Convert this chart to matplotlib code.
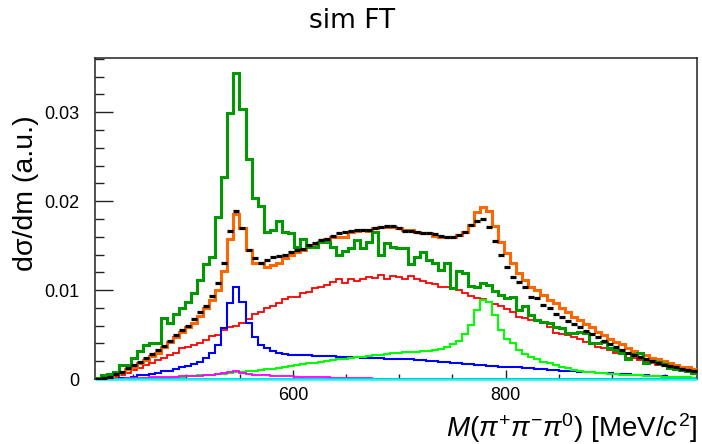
import numpy as np
import matplotlib
matplotlib.use("Agg")
import matplotlib.pyplot as plt
from matplotlib import ticker

plt.rcParams['font.family'] = ['Liberation Sans', 'DejaVu Sans']
plt.rcParams['mathtext.fontset'] = 'custom'
plt.rcParams['mathtext.rm'] = 'Liberation Sans'
plt.rcParams['mathtext.it'] = 'Liberation Sans:italic'

# binning of the histograms (MeV)
m_lo, m_hi, n_bins = 414.0, 980.0, 100

# bin contents, in units of 1e-3
data_ft = [
    0.1, 0.4, 0.6, 0.8, 1.6, 1.6, 2.4, 3.2, 3.8, 4.0,
    4.1, 6.9, 6.3, 7.3, 8.0, 8.7, 9.7, 11.1, 12.9, 13.7,
    18.2, 22.7, 29.9, 34.4, 30.4, 24.7, 20.4, 19.4, 16.5, 16.8,
    17.8, 16.5, 16.4, 14.8, 15.7, 14.8, 14.8, 15.4, 15.4, 14.8,
    14.0, 14.4, 14.7, 15.6, 14.7, 15.4, 16.5, 13.9, 15.3, 14.8,
    14.7, 14.7, 12.9, 13.7, 14.3, 13.4, 13.0, 12.3, 13.1, 10.2,
    12.1, 11.9, 10.5, 10.4, 10.8, 10.6, 9.9, 9.4, 9.1, 9.2,
    7.8, 8.2, 7.2, 6.6, 6.4, 6.3, 5.8, 5.7, 5.2, 5.2,
    5.3, 5.2, 4.1, 4.1, 4.2, 3.5, 3.3, 2.9, 2.3, 2.8,
    2.9, 1.8, 2.0, 1.9, 1.7, 1.2, 1.1, 1.0, 0.9, 0.7,
]
fit_total = [
    0.1, 0.2, 0.3, 0.6, 0.8, 1.1, 1.4, 1.8, 2.1, 2.6,
    2.9, 3.6, 4.2, 4.7, 5.3, 5.8, 6.3, 7.1, 8.0, 8.9,
    10.0, 12.2, 15.8, 18.5, 17.0, 14.5, 13.1, 13.1, 12.6, 12.8,
    13.1, 13.6, 13.9, 14.3, 14.5, 14.8, 15.1, 15.4, 15.7, 16.0,
    16.0, 16.0, 16.5, 16.7, 16.8, 16.7, 17.0, 17.1, 17.1, 17.1,
    17.0, 16.8, 16.8, 16.5, 16.4, 16.4, 16.1, 16.0, 16.0, 16.0,
    16.2, 16.5, 17.3, 18.8, 19.3, 18.9, 17.2, 15.4, 14.2, 13.0,
    11.9, 11.1, 10.4, 10.0, 9.4, 8.9, 8.5, 8.0, 7.5, 7.0,
    6.6, 6.2, 5.8, 5.3, 4.9, 4.5, 4.2, 3.9, 3.5, 3.2,
    2.9, 2.7, 2.4, 2.2, 2.0, 1.8, 1.6, 1.4, 1.3, 1.1,
]
data_points = [
    0.05, 0.1, 0.2, 0.6, 0.8, 1.2, 1.6, 1.9, 2.4, 2.8,
    3.3, 3.7, 4.3, 4.9, 5.5, 6.0, 6.7, 7.5, 8.2, 9.3,
    10.8, 13.0, 16.7, 18.9, 17.0, 14.5, 13.6, 13.1, 13.4, 13.7,
    13.8, 14.0, 14.3, 14.5, 14.6, 15.1, 15.3, 15.6, 15.8, 16.1,
    16.4, 16.5, 16.7, 16.8, 16.8, 16.8, 17.0, 17.1, 17.2, 17.2,
    17.0, 16.7, 16.6, 16.5, 16.4, 16.4, 16.3, 16.1, 16.0, 16.0,
    16.2, 16.5, 17.3, 17.8, 18.0, 17.1, 15.5, 14.0, 12.6, 11.5,
    10.9, 10.3, 9.2, 9.1, 8.3, 8.0, 7.3, 7.0, 6.5, 6.2,
    5.8, 5.4, 5.1, 4.7, 4.3, 3.9, 3.6, 3.3, 2.9, 2.7,
    2.5, 2.2, 2.0, 1.8, 1.6, 1.5, 1.3, 1.1, 1.0, 0.9,
]
broad = [
    0.0, 0.05, 0.1, 0.2, 0.4, 0.7, 1.0, 1.2, 1.6, 1.8,
    2.1, 2.4, 2.7, 2.9, 3.5, 3.6, 3.8, 4.0, 4.4, 4.8,
    5.0, 5.5, 5.8, 6.0, 6.3, 6.7, 7.3, 7.5, 8.0, 8.2,
    8.5, 9.0, 9.2, 9.2, 9.7, 9.8, 10.2, 10.4, 10.6, 10.9,
    11.2, 10.8, 11.2, 11.0, 11.2, 11.5, 11.4, 11.7, 11.3, 11.6,
    11.5, 11.2, 11.6, 11.2, 11.0, 10.8, 10.7, 10.4, 10.4, 10.1,
    10.0, 9.7, 9.3, 9.1, 9.0, 8.7, 8.4, 8.2, 7.9, 7.5,
    7.0, 6.9, 6.6, 6.5, 6.3, 5.8, 5.2, 5.1, 4.9, 4.7,
    4.5, 4.2, 4.0, 3.6, 3.5, 3.3, 2.9, 2.8, 2.4, 2.4,
    2.1, 1.9, 1.8, 1.6, 1.6, 1.4, 1.2, 1.1, 0.9, 0.8,
]
eta = [
    0.0, 0.0, 0.0, 0.05, 0.08, 0.15, 0.2, 0.4, 0.5, 0.6,
    0.7, 0.85, 0.9, 1.1, 1.3, 1.45, 1.65, 1.9, 2.4, 2.9,
    3.8, 5.7, 8.5, 10.3, 8.7, 6.3, 4.7, 3.8, 3.5, 3.1,
    2.9, 2.8, 2.7, 2.7, 2.7, 2.7, 2.6, 2.6, 2.6, 2.6,
    2.5, 2.5, 2.5, 2.5, 2.4, 2.4, 2.4, 2.4, 2.3, 2.3,
    2.3, 2.2, 2.2, 2.1, 2.1, 2.0, 2.0, 1.9, 1.9, 1.8,
    1.8, 1.7, 1.7, 1.6, 1.6, 1.5, 1.5, 1.4, 1.4, 1.3,
    1.3, 1.2, 1.2, 1.1, 1.1, 1.05, 1.0, 0.95, 0.9, 0.85,
    0.8, 0.78, 0.75, 0.72, 0.68, 0.64, 0.6, 0.56, 0.52, 0.48,
    0.45, 0.41, 0.38, 0.34, 0.3, 0.27, 0.23, 0.2, 0.16, 0.12,
]
omega = [
    0.0, 0.0, 0.0, 0.0, 0.01, 0.02, 0.03, 0.05, 0.07, 0.09,
    0.1, 0.12, 0.15, 0.18, 0.25, 0.3, 0.35, 0.4, 0.45, 0.5,
    0.55, 0.6, 0.68, 0.75, 0.8, 0.87, 0.95, 1.0, 1.08, 1.15,
    1.25, 1.35, 1.45, 1.55, 1.65, 1.75, 1.85, 1.95, 2.0, 2.1,
    2.2, 2.3, 2.35, 2.45, 2.5, 2.6, 2.7, 2.75, 2.8, 2.9,
    2.9, 3.0, 3.0, 3.05, 3.1, 3.2, 3.3, 3.4, 3.6, 3.9,
    4.3, 5.1, 6.1, 7.8, 8.9, 8.7, 7.2, 5.5, 4.5, 4.0,
    3.3, 2.8, 2.5, 2.2, 1.9, 1.8, 1.6, 1.4, 1.2, 1.0,
    0.9, 0.8, 0.75, 0.7, 0.65, 0.6, 0.55, 0.5, 0.47, 0.44,
    0.4, 0.37, 0.34, 0.3, 0.28, 0.25, 0.22, 0.2, 0.18, 0.15,
]
small = [
    0.0, 0.0, 0.0, 0.0, 0.05, 0.07, 0.1, 0.12, 0.15, 0.17,
    0.2, 0.22, 0.25, 0.27, 0.3, 0.32, 0.35, 0.38, 0.42, 0.47,
    0.55, 0.65, 0.75, 0.85, 0.7, 0.55, 0.47, 0.42, 0.4, 0.37,
    0.35, 0.33, 0.3, 0.28, 0.26, 0.24, 0.22, 0.2, 0.18, 0.16,
    0.14, 0.12, 0.1, 0.08, 0.07, 0.06, 0.05, 0.04, 0.03, 0.02,
    0.01, 0.01, 0.01, 0.01, 0.01, 0.0, 0.0, 0.0, 0.0, 0.0,
    0.0, 0.0, 0.0, 0.0, 0.0, 0.0, 0.0, 0.0, 0.0, 0.0,
    0.0, 0.0, 0.0, 0.0, 0.0, 0.0, 0.0, 0.0, 0.0, 0.0,
    0.0, 0.0, 0.0, 0.0, 0.0, 0.0, 0.0, 0.0, 0.0, 0.0,
    0.0, 0.0, 0.0, 0.0, 0.0, 0.0, 0.0, 0.0, 0.0, 0.0,
]
flat = [
    0.0, 0.0, 0.0, 0.0, 0.0, 0.0, 0.0, 0.0, 0.0, 0.0,
    0.0, 0.0, 0.0, 0.0, 0.0, 0.0, 0.0, 0.0, 0.0, 0.0,
    0.0, 0.0, 0.0, 0.0, 0.0, 0.0, 0.0, 0.0, 0.0, 0.0,
    0.0, 0.0, 0.0, 0.0, 0.0, 0.0, 0.0, 0.0, 0.0, 0.0,
    0.0, 0.0, 0.0, 0.0, 0.0, 0.0, 0.0, 0.0, 0.0, 0.0,
    0.0, 0.0, 0.0, 0.0, 0.0, 0.0, 0.0, 0.0, 0.0, 0.0,
    0.0, 0.0, 0.0, 0.0, 0.0, 0.0, 0.0, 0.0, 0.0, 0.0,
    0.0, 0.0, 0.0, 0.0, 0.0, 0.0, 0.0, 0.0, 0.0, 0.0,
    0.0, 0.0, 0.0, 0.0, 0.0, 0.0, 0.0, 0.0, 0.0, 0.0,
    0.0, 0.0, 0.0, 0.0, 0.0, 0.0, 0.0, 0.0, 0.0, 0.0,
]

scale = 1e-3
edges = np.linspace(m_lo, m_hi, n_bins + 1)
centers = 0.5 * (edges[1:] + edges[:-1])

fig = plt.figure(figsize=(7.02, 4.44), dpi=100)
ax = fig.add_axes([95 / 702, 1 - 379 / 444, 602 / 702, 321 / 444])

ax.stairs(np.array(broad) * scale, edges, baseline=None, color='#ff0000', lw=1.3, zorder=2)
ax.stairs(np.array(eta) * scale, edges, baseline=None, color='#0000ff', lw=1.5, zorder=2)
ax.stairs(np.array(omega) * scale, edges, baseline=None, color='#00ff00', lw=1.5, zorder=2)
ax.stairs(np.array(small) * scale, edges, baseline=None, color='#ff00ff', lw=1.3, zorder=2)
ax.stairs(np.array(flat) * scale, edges, baseline=None, color='#00ffff', lw=1.8, zorder=3, clip_on=False)
ax.stairs(np.array(fit_total) * scale, edges, baseline=None, color='#ff6600', lw=2.2, zorder=4)
ax.stairs(np.array(data_ft) * scale, edges, baseline=None, color='#009900', lw=2.2, zorder=5)
ax.plot(centers, np.array(data_points) * scale, ls='none', marker='_', ms=4.5, mew=2.3,
        color='black', zorder=6)

ax.set_xlim(m_lo, m_hi)
ax.set_ylim(0, 0.0361)
ax.xaxis.set_major_locator(ticker.MultipleLocator(200))
ax.xaxis.set_minor_locator(ticker.MultipleLocator(50))
ax.yaxis.set_major_locator(ticker.MultipleLocator(0.01))
ax.yaxis.set_minor_locator(ticker.MultipleLocator(0.002))
ax.yaxis.set_major_formatter(ticker.FormatStrFormatter('%g'))

ax.tick_params(axis='both', which='both', direction='in', top=False, right=False,
               labelsize=13, width=1, color='#222222')
ax.tick_params(axis='y', which='major', length=13, pad=11)
ax.tick_params(axis='y', which='minor', length=6.5)
ax.tick_params(axis='x', which='major', length=6.5, pad=6)
ax.tick_params(axis='x', which='minor', length=3.5)
for s in ax.spines.values():
    s.set_linewidth(1.1)
    s.set_color('#222222')

fig.text(352 / 702, 1 - 28 / 444, 'sim FT', family='DejaVu Sans', fontsize=19,
         ha='center', va='baseline')
fig.text(26 / 702, 1 - 193 / 444, 'dσ/dm (a.u.)', fontsize=20.5, rotation=90,
         ha='center', va='center')
fig.text(697 / 702, 1 - 428 / 444, r'$M(\pi^{+}\pi^{-}\pi^{0})$ [MeV/$c^{2}$]',
         fontsize=20, ha='right', va='center')

fig.savefig('out.png', dpi=100)
